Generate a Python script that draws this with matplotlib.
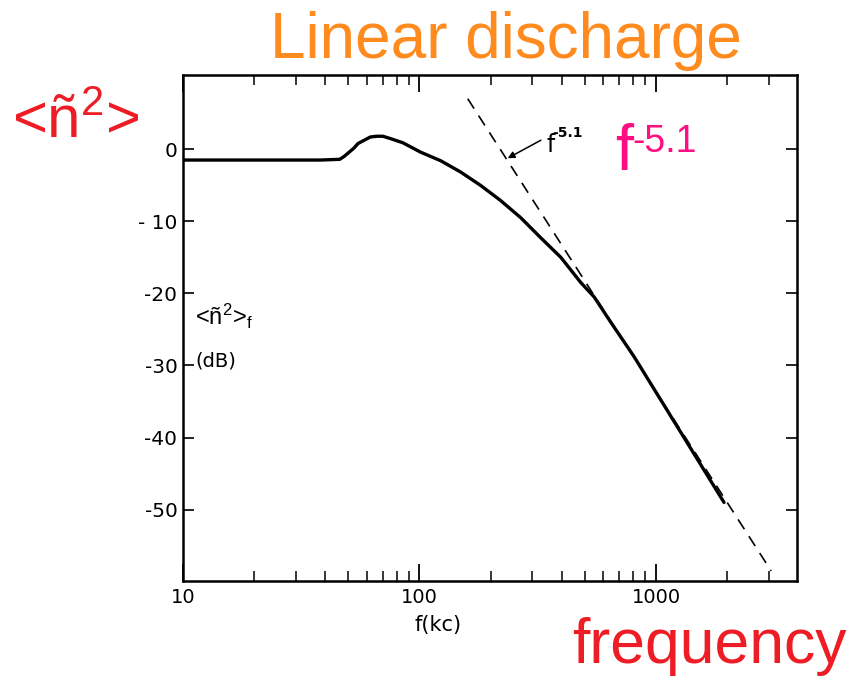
"""
Density fluctuation spectrum <n~^2>_f of a linear discharge (digitised from a scan).
"""

import matplotlib
matplotlib.use("Agg")
import matplotlib.pyplot as plt
from matplotlib.ticker import LogLocator, NullFormatter, FixedLocator

plt.rcParams["font.family"] = ["DejaVu Sans"]
plt.rcParams["mathtext.fontset"] = "custom"
plt.rcParams["mathtext.rm"] = "Liberation Sans"
plt.rcParams["mathtext.it"] = "Liberation Sans"

# ---------- data ----------
freq_kc = [10, 20, 38, 46, 48, 52.6, 55, 58, 62, 66, 70, 75, 85, 101, 123,
           149, 181, 220, 268, 326, 396, 481, 548, 644, 809, 1000, 1940]
spec_db = [-1.5, -1.5, -1.5, -1.4, -1.0, 0.1, 0.8, 1.2, 1.7, 1.8, 1.8, 1.5,
           0.9, -0.4, -1.6, -3.15, -5.0, -7.1, -9.5, -12.3, -15.0, -18.5,
           -20.5, -24.0, -28.8, -33.7, -49.0]

# f^-5.1 power law guide (end points)
fit_kc = [160, 3070]
fit_db = [7.0, -58.5]

y_ticks = [0, -10, -20, -30, -40, -50]
y_labels = ["0", "- 10", "-20", "-30", "-40", "-50"]
x_ticks = [10, 100, 1000]
x_labels = ["10", "100", "1000"]

# ---------- plot ----------
fig = plt.figure(figsize=(8.54, 6.78), dpi=100)
ax = fig.add_axes([0.2143, 0.1431, 0.719, 0.7463])

ax.plot(freq_kc, spec_db, color="black", linewidth=2.4,
        solid_capstyle="round", solid_joinstyle="round")
ax.plot(fit_kc, fit_db, color="black", linewidth=1.2, dashes=(7, 5))

ax.set_xscale("log")
ax.set_xlim(10, 3950)
ax.set_ylim(-59.9, 10.3)

ax.xaxis.set_major_locator(FixedLocator(x_ticks))
ax.set_xticklabels(x_labels)
ax.xaxis.set_minor_locator(LogLocator(base=10, subs=range(2, 10)))
ax.xaxis.set_minor_formatter(NullFormatter())
ax.set_yticks(y_ticks)
ax.set_yticklabels(y_labels)

ax.tick_params(axis="x", which="major", direction="in", length=12, width=1.3,
               top=True, labelsize=14, pad=5)
ax.tick_params(axis="x", which="minor", direction="in", length=7, width=1.1,
               top=True)
ax.tick_params(axis="y", which="major", direction="in", length=8, width=1.2,
               right=True, labelsize=14.5, pad=4)
for s in ax.spines.values():
    s.set_linewidth(1.8)

ax.set_xlabel("f(kc)", fontsize=15)
ax.xaxis.set_label_coords(0.415, -0.068)

# inner axis label of the original figure
ytr = ax.get_yaxis_transform()
ax.text(0.02, -24.4, r"<ñ$^{2}$>$_{f}$", fontsize=17,
        family="Liberation Sans", va="baseline", ha="left", transform=ytr)
ax.text(0.02, -29.4, "(dB)", fontsize=14, va="center", ha="left",
        transform=ytr)

# arrow and label for the power law
ax.annotate("", xy=(236, -1.25), xytext=(326, 1.25),
            arrowprops=dict(arrowstyle="-|>", color="black", lw=1.1,
                            mutation_scale=10, shrinkA=0, shrinkB=0))
ax.text(345, -0.4, "f", fontsize=17, ha="left", va="baseline")
ax.text(366, 1.7, "-5.1", fontsize=10, fontweight="bold", ha="left",
        va="baseline")

# slide annotations
fig.text(0.593, 0.9145, "Linear discharge", color="#ff8a1e", fontsize=46,
         family="Liberation Sans", ha="center", va="baseline")
fig.text(0.831, 0.022, "frequency", color="#ee1c24", fontsize=45,
         family="Liberation Sans", ha="center", va="baseline")
fig.text(0.014, 0.796, r"<ñ$^{2}$>", color="#ee1c24", fontsize=43,
         family="Liberation Sans", ha="left", va="baseline")
fig.text(0.720, 0.749, "f", color="#ff0d82", fontsize=47,
         family="Liberation Sans", ha="left", va="baseline")
fig.text(0.741, 0.776, "-5.1", color="#ff0d82", fontsize=27,
         family="Liberation Sans", ha="left", va="baseline")

fig.savefig("out.png", dpi=100)
